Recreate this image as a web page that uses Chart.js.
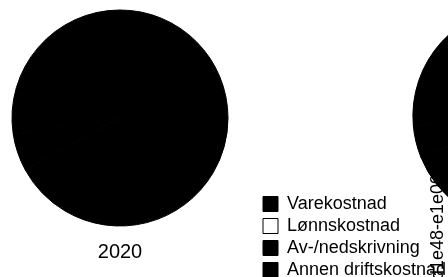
<!DOCTYPE html>
<html>
<head>
<meta charset="utf-8">
<script src="https://cdn.jsdelivr.net/npm/chart.js@4.4.0/dist/chart.umd.min.js"></script>
<style>
  html, body { margin: 0; padding: 0; background: #fff; }
  body { width: 448px; height: 277px; overflow: hidden; position: relative; }
  canvas { position: absolute; top: 0; }
  #legendChart { left: 259px; z-index: 1; }
  #pie2020 { left: 0; z-index: 2; }
  #pie2021 { left: 411px; z-index: 3; }
</style>
</head>
<body>
<canvas id="legendChart" width="400" height="283"></canvas>
<canvas id="pie2020" width="240" height="277"></canvas>
<canvas id="pie2021" width="186" height="290"></canvas>
<script>
// kategorier og verdier (lest av bildet, sektorene er svarte så andelene er anslått)
const categories = ['Varekostnad', 'Lønnskostnad', 'Av-/nedskrivning', 'Annen driftskostnad'];
const years = ['2020', '2021'];
const values2020 = [412, 0, 35, 168];
const values2021 = [455, 0, 31, 174];
const idLabel = '5d1e48-e1e09c7';

// farger per kategori
const sliceColors = ['#000000', '#ffffff', '#000000', '#000000'];

Chart.defaults.font.family = "'Liberation Sans', Arial, sans-serif";
Chart.defaults.color = '#000';
Chart.defaults.animation = false;
Chart.defaults.plugins.tooltip.enabled = false;

function pieDataset(values, radius) {
    return {
        data: values,
        backgroundColor: sliceColors,
        borderColor: '#000000',
        borderWidth: 1,
        radius: radius
    };
}

// bare legenden (sirkelen har radius 0)
new Chart(document.getElementById('legendChart'), {
    type: 'pie',
    data: { labels: categories, datasets: [pieDataset(values2020, 0)] },
    options: {
        responsive: false,
        layout: { padding: 0 },
        plugins: {
            legend: {
                position: 'left',
                align: 'end',
                labels: {
                    boxWidth: 15,
                    boxHeight: 15,
                    padding: 4,
                    font: { size: 18 }
                }
            }
        }
    }
});

// 2020
new Chart(document.getElementById('pie2020'), {
    type: 'pie',
    data: { labels: categories, datasets: [pieDataset(values2020, 108)] },
    options: {
        responsive: false,
        layout: { padding: 0 },
        plugins: {
            legend: { display: false },
            title: {
                display: true,
                text: years[0],
                position: 'bottom',
                font: { size: 20, weight: 'normal' },
                padding: { top: 4.5, bottom: 12.5 }
            }
        }
    }
});

// 2021 (delvis utenfor bildet)
new Chart(document.getElementById('pie2021'), {
    type: 'pie',
    data: { labels: categories, datasets: [pieDataset(values2021, 110)] },
    options: {
        responsive: false,
        layout: { padding: 0 },
        plugins: {
            legend: { display: false },
            title: {
                display: true,
                text: idLabel,
                position: 'left',
                align: 'start',
                font: { size: 18, weight: 'normal' },
                padding: { top: 16.2, bottom: 0 }
            },
            subtitle: {
                display: true,
                text: years[1],
                position: 'bottom',
                font: { size: 20 },
                padding: { top: 4.5, bottom: 29.5 }
            }
        }
    }
});
</script>
</body>
</html>
